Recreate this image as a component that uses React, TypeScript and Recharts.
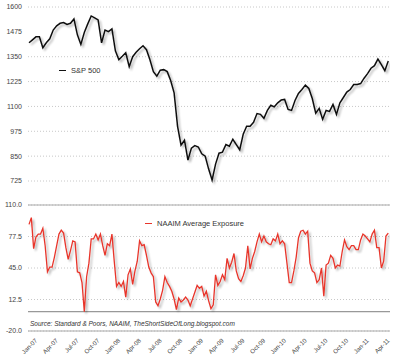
import React from "react";
import {
  LineChart,
  Line,
  XAxis,
  YAxis,
  CartesianGrid,
  ReferenceLine,
  Legend,
} from "recharts";

// x positions are months since Jan 2007
const SP_START = -0.75;
const SP_STEP = 0.5;
const NAAIM_START = -0.75;
const NAAIM_STEP = 1 / 3;

const spClose = [
  1420, 1435, 1450, 1450, 1395, 1420, 1440, 1484, 1505, 1518,
  1522, 1512, 1518, 1540, 1460, 1412, 1472, 1515, 1555, 1545,
  1535, 1420, 1484, 1476, 1490, 1380, 1335, 1352, 1370, 1300,
  1350, 1372, 1390, 1405, 1385, 1335, 1275, 1252, 1282, 1285,
  1275, 1230, 1168, 1000, 905, 930, 830, 890, 903, 896,
  862, 850, 785, 730, 810, 865, 870, 908, 900, 935,
  908, 882, 960, 1000, 1000, 1020, 1064, 1060, 1040, 1080,
  1106, 1098, 1118, 1132, 1135, 1085, 1080, 1130, 1165, 1185,
  1207, 1190, 1140, 1066, 1090, 1035, 1080, 1075, 1110, 1060,
  1118, 1145, 1172, 1185, 1210, 1210, 1215, 1242, 1265, 1292,
  1305, 1338, 1310, 1280, 1328,
];

const naaimExposure = [
  90, 97, 65, 77, 80, 80, 86, 68, 41, 46,
  46, 56, 68, 80, 84, 81, 66, 54, 63, 73,
  72, 41, 40, 30, 0, 36, 50, 75, 75, 80,
  74, 80, 68, 58, 70, 68, 80, 52, 26, 30,
  26, 31, 15, 38, 44, 28, 42, 52, 73, 68,
  69, 58, 46, 40, 36, 10, 6, 13, 22, 36,
  30, 26, 21, 13, 2, 14, 10, 12, 15, 12,
  6, 13, 20, 27, 24, 26, 16, 21, 11, 3,
  7, 38, 27, 31, 38, 33, 55, 45, 51, 60,
  42, 34, 31, 37, 45, 68, 44, 55, 62, 72,
  80, 72, 78, 72, 70, 69, 75, 73, 80, 70,
  73, 70, 50, 30, 30, 42, 56, 76, 83, 84,
  80, 83, 50, 42, 40, 30, 33, 45, 16, 48,
  50, 58, 55, 45, 48, 47, 62, 74, 67, 64,
  68, 68, 64, 64, 74, 80, 78, 75, 72, 80,
  84, 66, 66, 45, 52, 78, 81,
];

const quarterLabels = [
  "Jan-07", "Apr-07", "Jul-07", "Oct-07",
  "Jan-08", "Apr-08", "Jul-08", "Oct-08",
  "Jan-09", "Apr-09", "Jul-09", "Oct-09",
  "Jan-10", "Apr-10", "Jul-10", "Oct-10",
  "Jan-11", "Apr-11",
];

const spTicks = [725, 850, 975, 1100, 1225, 1350, 1475, 1600];
const naaimTicks = [-20, 12.5, 45, 77.5, 110];

const spData = spClose.map((v, i) => ({ t: SP_START + i * SP_STEP, sp: v }));
const naaimData = naaimExposure.map((v, i) => ({
  t: NAAIM_START + i * NAAIM_STEP,
  naaim: v,
}));
const quarterTicks = quarterLabels.map((_, i) => i * 3);
const X_DOMAIN = [-0.9, 51.5];

const FONT = "'Liberation Sans', Arial, sans-serif";
const tickStyle = { fontSize: 7, fill: "#444", fontFamily: FONT };

function QuarterTick({ x, y, payload }: any) {
  const label = quarterLabels[Math.round(payload.value / 3)];
  const ax = x + 3.5;
  const ay = y + 10;
  return (
    <text
      x={ax}
      y={ay}
      textAnchor="end"
      transform={`rotate(-45, ${ax}, ${ay})`}
      fontSize={6.2}
      fill="#444"
      fontFamily={FONT}
    >
      {label}
    </text>
  );
}

function LegendItem({ color, text }: { color: string; text: string }) {
  return (
    <div style={{ display: "flex", alignItems: "center", fontFamily: FONT }}>
      <span style={{ width: 7, height: 1.6, background: color, marginRight: 5 }} />
      <span style={{ fontSize: 7.5, color: "#333" }}>{text}</span>
    </div>
  );
}

function Shadow({ id }: { id: string }) {
  return (
    <defs>
      <filter id={id} x="-5%" y="-10%" width="115%" height="130%">
        <feGaussianBlur in="SourceAlpha" stdDeviation="1.3" />
        <feOffset dx="1.5" dy="2" result="blur" />
        <feComponentTransfer>
          <feFuncA type="linear" slope="0.3" />
        </feComponentTransfer>
        <feMerge>
          <feMergeNode />
          <feMergeNode in="SourceGraphic" />
        </feMerge>
      </filter>
    </defs>
  );
}

export default function App() {
  return (
    <div
      style={{
        position: "absolute",
        left: 0,
        top: 0,
        width: 400,
        height: 359,
        background: "#fff",
      }}
    >
      <div style={{ position: "absolute", left: 0, top: 0 }}>
        <LineChart
          width={400}
          height={190}
          data={spData}
          margin={{ top: 7, right: 10, left: 0, bottom: 9 }}
        >
          <Shadow id="spShadow" />
          <CartesianGrid vertical={false} stroke="#c8c8c8" strokeDasharray="1 2" />
          <XAxis
            dataKey="t"
            type="number"
            domain={X_DOMAIN}
            allowDataOverflow
            hide
          />
          <YAxis
            domain={[725, 1600]}
            ticks={spTicks}
            width={28}
            axisLine={false}
            tickLine={false}
            tickSize={0}
            tickMargin={6}
            tick={tickStyle}
          />
          <Legend
            verticalAlign="middle"
            layout="horizontal"
            wrapperStyle={{ left: 59, top: 66, width: "auto" }}
            content={() => <LegendItem color="#111" text="S&P 500" />}
          />
          <Line
            dataKey="sp"
            type="linear"
            stroke="#111"
            strokeWidth={1.5}
            dot={false}
            filter="url(#spShadow)"
            isAnimationActive={false}
          />
        </LineChart>
      </div>
      <div style={{ position: "absolute", left: 0, top: 190 }}>
        <LineChart
          width={400}
          height={169}
          data={naaimData}
          margin={{ top: 15, right: 10, left: 0, bottom: 0 }}
        >
          <Shadow id="naaimShadow" />
          <CartesianGrid vertical={false} stroke="#c8c8c8" strokeDasharray="1 2" />
          <XAxis
            dataKey="t"
            type="number"
            domain={X_DOMAIN}
            allowDataOverflow
            ticks={quarterTicks}
            interval={0}
            height={28}
            axisLine={false}
            tickLine={false}
            tickSize={0}
            tickMargin={0}
            tick={<QuarterTick />}
          />
          <YAxis
            domain={[-20, 110]}
            ticks={naaimTicks}
            width={28}
            axisLine={false}
            tickLine={false}
            tickSize={0}
            tickMargin={6}
            tick={tickStyle}
            tickFormatter={(v: number) => v.toFixed(1)}
          />
          <ReferenceLine y={110} stroke="#aaa" strokeWidth={1.2} />
          <ReferenceLine y={0} stroke="#999" strokeWidth={1.2} />
          <ReferenceLine y={-20} stroke="#aaa" strokeWidth={1.2} />
          <Legend
            verticalAlign="middle"
            layout="horizontal"
            wrapperStyle={{ left: 145, top: 29, width: "auto" }}
            content={() => (
              <LegendItem color="#e8352b" text="NAAIM Average Exposure" />
            )}
          />
          <Line
            dataKey="naaim"
            type="linear"
            stroke="#e8352b"
            strokeWidth={1.3}
            dot={false}
            filter="url(#naaimShadow)"
            isAnimationActive={false}
          />
        </LineChart>
        <div
          style={{
            position: "absolute",
            left: 30,
            top: 130,
            fontFamily: FONT,
            fontStyle: "italic",
            fontSize: 6.5,
            color: "#333",
            whiteSpace: "nowrap",
          }}
        >
          Source: Standard &amp; Poors, NAAIM, TheShortSideOfLong.blogspot.com
        </div>
      </div>
    </div>
  );
}
